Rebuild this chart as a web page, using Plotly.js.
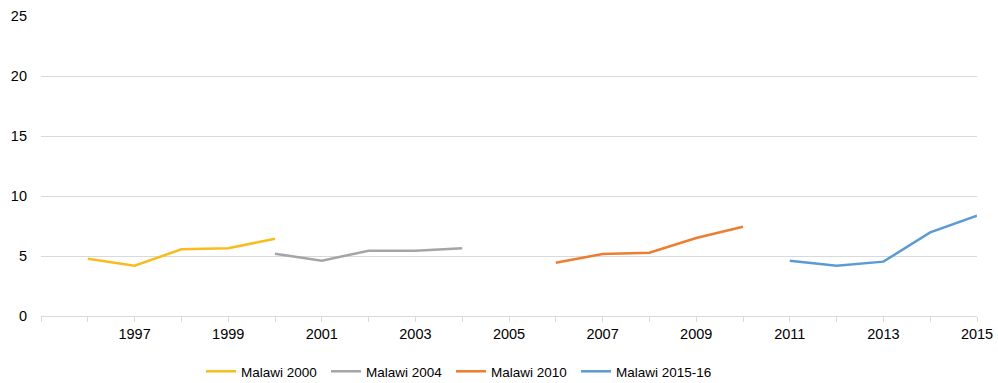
<!DOCTYPE html>
<html>
<head>
<meta charset="utf-8">
<script src="https://cdn.plot.ly/plotly-3.0.1.min.js"></script>
<style>html,body{margin:0;padding:0;background:#fff;}#chart{width:998px;height:383px;}</style>
</head>
<body>
<div id="chart"></div>
<script>
const years2000 = [1996, 1997, 1998, 1999, 2000];
const vals2000 = [4.78, 4.19, 5.56, 5.64, 6.44];
const years2004 = [2000, 2001, 2002, 2003, 2004];
const vals2004 = [5.19, 4.61, 5.44, 5.44, 5.64];
const years2010 = [2006, 2007, 2008, 2009, 2010];
const vals2010 = [4.44, 5.17, 5.28, 6.5, 7.44];
const years2015 = [2011, 2012, 2013, 2014, 2015];
const vals2015 = [4.61, 4.19, 4.53, 6.97, 8.36];
const seriesNames = ["Malawi 2000", "Malawi 2004", "Malawi 2010", "Malawi 2015-16"];
const xTickVals = [1997, 1999, 2001, 2003, 2005, 2007, 2009, 2011, 2013, 2015];
const xTickText = ["1997", "1999", "2001", "2003", "2005", "2007", "2009", "2011", "2013", "2015"];

const colors = ["#F9BC1F", "#A5A5A5", "#ED7D31", "#5B9BD5"];
const xs = [years2000, years2004, years2010, years2015];
const ys = [vals2000, vals2004, vals2010, vals2015];
const legendIds = ['legend', 'legend2', 'legend3', 'legend4'];
const legendLeft = [201, 326, 451, 576];
const traces = seriesNames.map((n, i) => ({
  type: 'scatter', mode: 'lines', name: n, x: xs[i], y: ys[i],
  line: {color: colors[i], width: 2.5}, legend: legendIds[i]
}));

const layout = {
  width: 998, height: 383,
  margin: {l: 41, r: 21, t: 16, b: 67, autoexpand: false},
  paper_bgcolor: '#fff', plot_bgcolor: '#fff',
  font: {family: 'Liberation Sans, Arial, sans-serif', size: 13, color: '#000'},
  showlegend: true,
  xaxis: {
    range: [1995, 2015], tickvals: xTickVals, ticktext: xTickText,
    showgrid: false, zeroline: false, showline: true, linecolor: '#d9d9d9', linewidth: 1,
    ticks: 'outside', ticklen: 5, tickcolor: '#d9d9d9',
    minor: {ticks: 'outside', dtick: 1, tick0: 1995, ticklen: 5, tickcolor: '#d9d9d9', showgrid: false},
    tickfont: {size: 14.5, color: '#000'}
  },
  yaxis: {
    range: [0, 25], dtick: 5, showgrid: true, gridcolor: '#d9d9d9', gridwidth: 1,
    zeroline: false, showline: false, ticks: '', ticklabelstandoff: 13,
    tickfont: {size: 14.5, color: '#000'}
  }
};
legendIds.forEach((id, i) => {
  layout[id] = {orientation: 'h', xref: 'container', yref: 'container', x: legendLeft[i] / 998,
    xanchor: 'left', y: 0.03, yanchor: 'middle', font: {size: 13.5, color: '#000'},
    itemwidth: 30, bgcolor: 'rgba(0,0,0,0)'};
});
Plotly.newPlot('chart', traces, layout, {displayModeBar: false, staticPlot: true});
</script>
</body>
</html>
